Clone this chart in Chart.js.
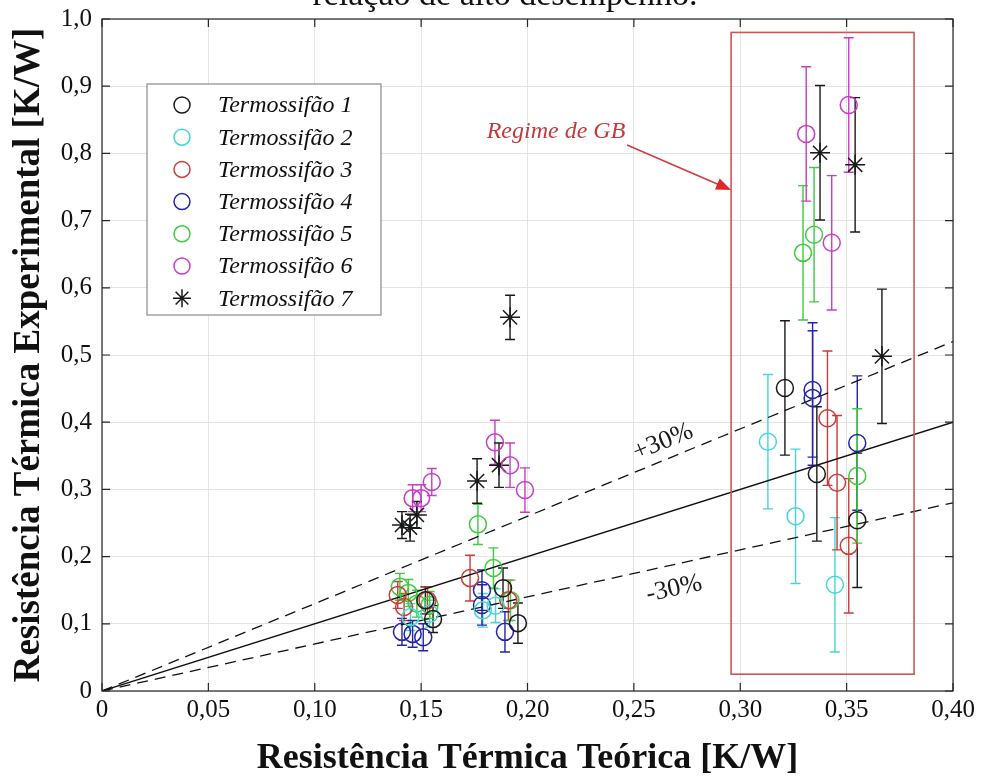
<!DOCTYPE html>
<html><head><meta charset="utf-8">
<script src="https://cdn.jsdelivr.net/npm/chart.js@4.4.0/dist/chart.umd.min.js"></script>
<style>html,body{margin:0;padding:0;background:#fff}canvas{display:block}</style>
</head><body>
<canvas id="c" width="999" height="780"></canvas>
<script>
// ---- data ----
const seriesNames = ['Termossifão 1','Termossifão 2','Termossifão 3','Termossifão 4','Termossifão 5','Termossifão 6','Termossifão 7'];
const seriesColors = ['#1a1a1a','#45d6d6','#c83c3c','#2424a8','#3ccc3c','#c83cc8','#1a1a1a'];
const seriesMarkers = ['circle','circle','circle','circle','circle','circle','star'];

const t1x = [0.152, 0.1556, 0.1885, 0.1955, 0.321, 0.336, 0.355];
const t1y = [0.135, 0.107, 0.153, 0.101, 0.451, 0.323, 0.254];
const t1e = [0.02, 0.02, 0.03, 0.03, 0.1, 0.1, 0.1];

const t2x = [0.145, 0.154, 0.179, 0.185, 0.313, 0.326, 0.3445];
const t2y = [0.110, 0.115, 0.120, 0.127, 0.371, 0.260, 0.158];
const t2e = [0.02, 0.02, 0.025, 0.025, 0.1, 0.1, 0.1];

const t3x = [0.139, 0.142, 0.153, 0.173, 0.191, 0.341, 0.3455, 0.351];
const t3y = [0.143, 0.125, 0.135, 0.168, 0.135, 0.406, 0.310, 0.216];
const t3e = [0.02, 0.02, 0.02, 0.034, 0.03, 0.1, 0.1, 0.1];

const t4x = [0.141, 0.146, 0.151, 0.1786, 0.1786, 0.1894, 0.334, 0.334, 0.355];
const t4y = [0.088, 0.085, 0.080, 0.150, 0.128, 0.088, 0.448, 0.436, 0.369];
const t4e = [0.02, 0.02, 0.02, 0.03, 0.03, 0.03, 0.1, 0.1, 0.1];

const t5x = [0.140, 0.144, 0.148, 0.154, 0.1767, 0.184, 0.192, 0.3295, 0.3347, 0.355];
const t5y = [0.155, 0.146, 0.130, 0.128, 0.248, 0.183, 0.135, 0.652, 0.679, 0.320];
const t5e = [0.02, 0.02, 0.02, 0.02, 0.03, 0.03, 0.03, 0.1, 0.1, 0.1];

const t6x = [0.146, 0.150, 0.155, 0.1847, 0.1918, 0.1988, 0.331, 0.343, 0.351];
const t6y = [0.287, 0.287, 0.311, 0.370, 0.336, 0.299, 0.829, 0.667, 0.872];
const t6e = [0.02, 0.02, 0.02, 0.033, 0.033, 0.033, 0.1, 0.1, 0.1];

const t7x = [0.141, 0.1448, 0.148, 0.1763, 0.1866, 0.1918, 0.3375, 0.354, 0.3666];
const t7y = [0.247, 0.243, 0.262, 0.3125, 0.336, 0.556, 0.801, 0.783, 0.498];
const t7e = [0.02, 0.02, 0.02, 0.033, 0.033, 0.033, 0.1, 0.1, 0.1];

const xTickLabels = ['0','0,05','0,10','0,15','0,20','0,25','0,30','0,35','0,40'];
const yTickLabels = ['0','0,1','0,2','0,3','0,4','0,5','0,6','0,7','0,8','0,9','1,0'];

const refLineX = [0, 0.4];
const refFactors = [1.0, 1.3, 0.7];
const refLabels = ['', '+30%', '-30%'];
const refLabelX = [0, 0.2637, 0.2689];
const refLabelY = [0, 0.3705, 0.1518];

const gbRectX = [0.2957, 0.3817];
const gbRectY = [0.025, 0.980];
const gbText = 'Regime de GB';
const gbTextPos = [0.2134, 0.833];
const gbArrowFrom = [0.2468, 0.8125];
const gbArrowTo = [0.2957, 0.7455];

const captionText = 'relação de alto desempenho.';
const xTitle = 'Resistência Térmica Teórica [K/W]';
const yTitle = 'Resistência Térmica Experimental [K/W]';

// ---- build datasets ----
const allX = [t1x,t2x,t3x,t4x,t5x,t6x,t7x];
const allY = [t1y,t2y,t3y,t4y,t5y,t6y,t7y];
const allE = [t1e,t2e,t3e,t4e,t5e,t6e,t7e];

const datasets = [];
refFactors.forEach((f,i)=>{
  datasets.push({
    label: 'ref'+i, isRef: true,
    data: refLineX.map(x=>({x:x, y:x*f})),
    showLine: true, borderColor:'#111', borderWidth: 1.3,
    borderDash: i===0 ? [] : [11,7],
    pointRadius: 0, fill:false, order: 10
  });
});
seriesNames.forEach((n,i)=>{
  datasets.push({
    label: n, isRef:false,
    data: allX[i].map((x,j)=>({x:x, y:allY[i][j], e:allE[i][j]})),
    borderColor: seriesColors[i], backgroundColor: 'rgba(0,0,0,0)',
    pointStyle: seriesMarkers[i],
    pointRadius: seriesMarkers[i]==='star' ? 10 : 8.5,
    pointBorderWidth: 1.5, showLine:false, order: 1
  });
});

const FONT = "'Liberation Serif', 'Times New Roman', serif";

function drawStar(ctx, x, y, r){
  ctx.beginPath();
  for (let k=0;k<4;k++){
    const a = k*Math.PI/4;
    ctx.moveTo(x-Math.cos(a)*r, y-Math.sin(a)*r);
    ctx.lineTo(x+Math.cos(a)*r, y+Math.sin(a)*r);
  }
  ctx.stroke();
}

const decoPlugin = {
  id:'deco',
  beforeDatasetsDraw(chart){
    const {ctx, scales:{x, y}} = chart;
    ctx.save();
    chart.data.datasets.forEach((ds)=>{
      if (ds.isRef) return;
      ctx.strokeStyle = ds.borderColor; ctx.lineWidth = 1.4;
      ds.data.forEach(p=>{
        const px = x.getPixelForValue(p.x);
        const y1 = y.getPixelForValue(p.y + p.e);
        const y2 = y.getPixelForValue(p.y - p.e);
        ctx.beginPath();
        ctx.moveTo(px, y1); ctx.lineTo(px, y2);
        ctx.moveTo(px-5, y1); ctx.lineTo(px+5, y1);
        ctx.moveTo(px-5, y2); ctx.lineTo(px+5, y2);
        ctx.stroke();
      });
    });
    ctx.restore();
  },
  afterDatasetsDraw(chart){
    const {ctx, chartArea:a, scales:{x, y}} = chart;
    ctx.save();
    ctx.strokeStyle = '#262626'; ctx.lineWidth = 1.2;
    ctx.strokeRect(a.left, a.top, a.right-a.left, a.bottom-a.top);
    ctx.beginPath();
    x.ticks.forEach(t=>{
      const px = x.getPixelForValue(t.value);
      ctx.moveTo(px, a.bottom); ctx.lineTo(px, a.bottom-8);
      ctx.moveTo(px, a.top); ctx.lineTo(px, a.top+8);
    });
    y.ticks.forEach(t=>{
      const py = y.getPixelForValue(t.value);
      ctx.moveTo(a.left, py); ctx.lineTo(a.left+8, py);
      ctx.moveTo(a.right, py); ctx.lineTo(a.right-8, py);
    });
    ctx.stroke();

    ctx.strokeStyle = '#cf5555'; ctx.lineWidth = 1.6;
    const rx1 = x.getPixelForValue(gbRectX[0]), rx2 = x.getPixelForValue(gbRectX[1]);
    const ry1 = y.getPixelForValue(gbRectY[1]), ry2 = y.getPixelForValue(gbRectY[0]);
    ctx.strokeRect(rx1, ry1, rx2-rx1, ry2-ry1);

    const ax1 = x.getPixelForValue(gbArrowFrom[0]), ay1 = y.getPixelForValue(gbArrowFrom[1]);
    const ax2 = x.getPixelForValue(gbArrowTo[0]), ay2 = y.getPixelForValue(gbArrowTo[1]);
    const ang = Math.atan2(ay2-ay1, ax2-ax1);
    ctx.strokeStyle = '#d43a3a'; ctx.fillStyle = '#e02828'; ctx.lineWidth = 1.5;
    ctx.beginPath(); ctx.moveTo(ax1, ay1);
    ctx.lineTo(ax2-Math.cos(ang)*12, ay2-Math.sin(ang)*12); ctx.stroke();
    ctx.beginPath();
    ctx.moveTo(ax2, ay2);
    ctx.lineTo(ax2-Math.cos(ang)*15+Math.sin(ang)*6, ay2-Math.sin(ang)*15-Math.cos(ang)*6);
    ctx.lineTo(ax2-Math.cos(ang)*15-Math.sin(ang)*6, ay2-Math.sin(ang)*15+Math.cos(ang)*6);
    ctx.closePath(); ctx.fill();

    ctx.fillStyle = '#c23b3b';
    ctx.font = 'italic 24px ' + FONT;
    ctx.textAlign = 'center'; ctx.textBaseline = 'middle';
    ctx.fillText(gbText, x.getPixelForValue(gbTextPos[0]), y.getPixelForValue(gbTextPos[1]));

    ctx.fillStyle = '#1a1a1a';
    ctx.font = '26px ' + FONT;
    for (let i=1;i<refFactors.length;i++){
      const dx = x.getPixelForValue(0.4) - x.getPixelForValue(0);
      const dy = y.getPixelForValue(0.4*refFactors[i]) - y.getPixelForValue(0);
      const r = Math.atan2(dy, dx);
      ctx.save();
      ctx.translate(x.getPixelForValue(refLabelX[i]), y.getPixelForValue(refLabelY[i]));
      ctx.rotate(r);
      ctx.fillText(refLabels[i], 0, 0);
      ctx.restore();
    }

    const lx = 147, ly = 84, lw = 234, lh = 231;
    ctx.fillStyle = '#fff'; ctx.fillRect(lx, ly, lw, lh);
    ctx.strokeStyle = '#8a8a8a'; ctx.lineWidth = 1.2; ctx.strokeRect(lx, ly, lw, lh);
    ctx.font = 'italic 24px ' + FONT; ctx.textAlign = 'left'; ctx.textBaseline = 'middle';
    seriesNames.forEach((n,i)=>{
      const cy = ly + 21 + i*32.2;
      ctx.strokeStyle = seriesColors[i]; ctx.lineWidth = 1.5;
      if (seriesMarkers[i]==='star') drawStar(ctx, lx+35, cy, 9);
      else { ctx.beginPath(); ctx.arc(lx+35, cy, 8, 0, Math.PI*2); ctx.stroke(); }
      ctx.fillStyle = '#111';
      ctx.fillText(n, lx+71, cy+1);
    });

    ctx.font = '34px ' + FONT; ctx.textAlign = 'center'; ctx.textBaseline = 'alphabetic';
    ctx.fillStyle = '#111';
    ctx.fillText(captionText, 505, 5);
    ctx.restore();
  }
};

new Chart(document.getElementById('c'), {
  type: 'scatter',
  data: { datasets },
  options: {
    responsive: false, animation: false,
    layout: { padding: { top: 19, right: 46, left: 0, bottom: 0 } },
    plugins: { legend: { display:false }, tooltip: { enabled:false } },
    scales: {
      x: {
        type:'linear', min:0, max:0.4,
        ticks: { stepSize:0.05, padding: 4, color:'#111', font:{family:FONT, size:25},
                 callback:(v,i)=>xTickLabels[i] },
        grid: { color:'#e4e4e4', lineWidth:1, drawTicks:false },
        border: { display:false },
        title: { display:true, text:xTitle, color:'#111', padding:{top:0,bottom:0},
                 font:{family:FONT, size:36, weight:'bold'} },
        afterFit: s => { s.height = 89; }
      },
      y: {
        type:'linear', min:0, max:1,
        ticks: { stepSize:0.1, padding: 10, color:'#111', font:{family:FONT, size:25, lineHeight:0.6},
                 callback:(v,i)=>yTickLabels[i] },
        grid: { color:'#e4e4e4', lineWidth:1, drawTicks:false },
        border: { display:false },
        title: { display:true, text:yTitle, color:'#111', padding:{top:7,bottom:0},
                 font:{family:FONT, size:37, weight:'bold'} },
        afterFit: s => { s.width = 102; }
      }
    }
  },
  plugins: [decoPlugin]
});
</script>
</body></html>
